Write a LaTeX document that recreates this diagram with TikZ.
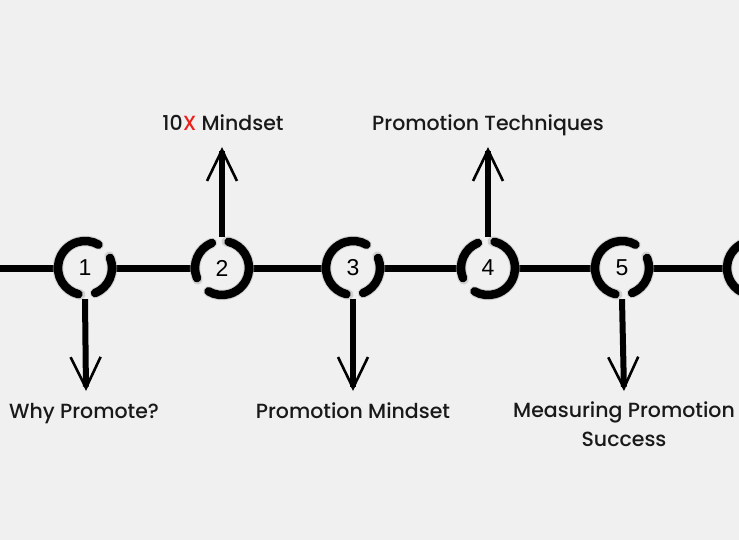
\documentclass[tikz,border=0pt]{standalone}
\usepackage{fontspec}
\setmainfont{Poppins}
\newfontfamily\lab{Poppins}[UprightFont=* Medium]
\newfontfamily\num{Liberation Sans}
\usetikzlibrary{arrows.meta}
\definecolor{bg}{HTML}{F0F0F0}
\definecolor{xred}{HTML}{E8211B}
\newcommand\bcirc[2]{%
  \draw[brushsoft] ([shift={(#2+100:27)}]#1.center) arc[start angle=#2+100,end angle=#2+300,radius=27];
  \draw[brushsoft] ([shift={(#2+68:27)}]#1.center) arc[start angle=#2+68,end angle=#2-25,radius=27];
  \draw[brush] ([shift={(#2+104:27)}]#1.center) arc[start angle=#2+104,end angle=#2+300,radius=27];
  \draw[brush] ([shift={(#2+68:27)}]#1.center) arc[start angle=#2+68,end angle=#2-22,radius=27];
}
\begin{document}
\begin{tikzpicture}[x=1pt,y=-1pt,
  hub/.style={circle,minimum size=62pt,inner sep=0pt,font=\num\fontsize{23}{24}\selectfont},
  brush/.style={line width=8.5pt,line cap=round,black},
  brushsoft/.style={line width=10.5pt,line cap=round,black!30,opacity=0.5},
  axis/.style={line width=7pt,black},
  stem/.style={line width=6pt,black,-{Straight Barb[length=31pt,width=30pt,line width=2.6pt]}},
  label/.style={font=\lab\fontsize{20.5}{29}\selectfont,align=center,text=black!90}]
\fill[bg] (0,0) rectangle (739,540);
\useasboundingbox (0,0) rectangle (739,540);
\coordinate (start) at (0,268);
\node[hub] (c1) at (85,268) {1};
\node[hub] (c2) at (222,268) {2};
\node[hub] (c3) at (353,268) {3};
\node[hub] (c4) at (488,268) {4};
\node[hub] (c5) at (622,268) {5};
\node[hub] (c6) at (754,268) {};
\draw[axis] (start) -- (c1.west);
\draw[axis] (c1.east) -- (c2.west);
\draw[axis] (c2.east) -- (c3.west);
\draw[axis] (c3.east) -- (c4.west);
\draw[axis] (c4.east) -- (c5.west);
\draw[axis] (c5.east) -- (c6.west);
\bcirc{c1}{0}
\bcirc{c2}{180}
\bcirc{c3}{0}
\bcirc{c4}{180}
\bcirc{c5}{0}
\bcirc{c6}{0}
\coordinate (t1) at (86,391);
\coordinate (t2) at (222,147);
\coordinate (t3) at (353,391);
\coordinate (t4) at (488,147);
\coordinate (t5) at (624,391);
\draw[stem] (c1.south) -- (t1);
\draw[stem] (c2.north) -- (t2);
\draw[stem] (c3.south) -- (t3);
\draw[stem] (c4.north) -- (t4);
\draw[stem] (c5.south) -- (t5);
\node[label,anchor=base] (l1) at (84,418) {Why Promote?};
\node[label,anchor=base] (l2) at (223,131) {10\textcolor{xred}{X} Mindset};
\node[label,anchor=base] (l3) at (353,418) {Promotion Mindset};
\node[label,anchor=base] (l4) at (488,131) {Promotion Techniques};
\node[label,anchor=north] (l5) at (624,398) {Measuring Promotion\\Success};
\end{tikzpicture}
\end{document}
